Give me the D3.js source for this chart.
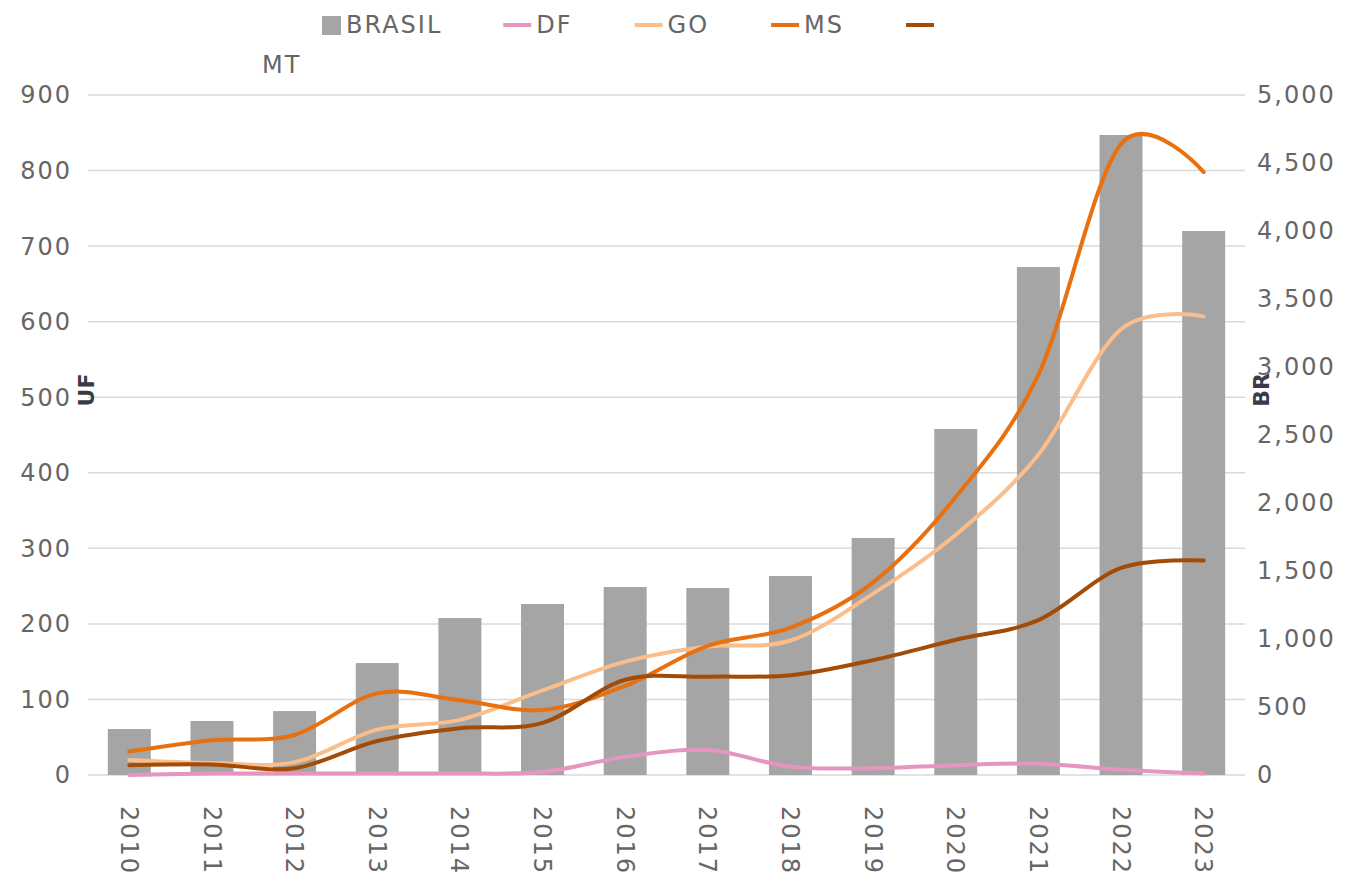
<!DOCTYPE html>
<html>
<head>
<meta charset="utf-8">
<script src="https://cdn.jsdelivr.net/npm/d3@7"></script>
<style>
    body { margin: 0; background: #fff; }
    svg { display: block; font-family: "DejaVu Sans", sans-serif; }
</style>
</head>
<body>
<svg id="chart" width="1352" height="882"></svg>
<script>
// data
var years = ["2010", "2011", "2012", "2013", "2014", "2015", "2016", "2017", "2018", "2019", "2020", "2021", "2022", "2023"];
var brasil = [338, 397, 470, 823, 1154, 1257, 1382, 1375, 1463, 1743, 2544, 3735, 4706, 4000];
var df = [0, 2, 2, 2, 2, 4, 24, 33, 11, 9, 13, 15, 7, 2];
var go = [20, 16, 17, 60, 73, 112, 150, 170, 178, 240, 318, 424, 590, 607];
var ms = [31, 46, 53, 108, 99, 86, 118, 171, 195, 255, 368, 530, 835, 798];
var mt = [13, 14, 9, 45, 62, 69, 126, 130, 132, 152, 179, 205, 274, 284];
var leftTicks = [0, 100, 200, 300, 400, 500, 600, 700, 800, 900];
var rightTicks = [0, 500, 1000, 1500, 2000, 2500, 3000, 3500, 4000, 4500, 5000];

var series = [
    { name: "DF", values: df, color: "#e595bf" },
    { name: "GO", values: go, color: "#fbbd8a" },
    { name: "MS", values: ms, color: "#e8700f" },
    { name: "MT", values: mt, color: "#a24c08" }
];

var svg = d3.select("#chart");

var plotLeft = 88, plotRight = 1245, plotTop = 95, plotBottom = 775;

var x = d3.scaleBand().domain(years).range([plotLeft, plotRight]).paddingInner(0.48).paddingOuter(0.24);
var yL = d3.scaleLinear().domain([0, 900]).range([plotBottom, plotTop]);
var yR = d3.scaleLinear().domain([0, 5000]).range([plotBottom, plotTop]);

var textColor = "#666";
var spacing = "2px";

// gridlines
svg.append("g")
    .selectAll("line")
    .data(leftTicks)
    .enter().append("line")
    .attr("x1", plotLeft).attr("x2", plotRight)
    .attr("y1", d => yL(d)).attr("y2", d => yL(d))
    .attr("stroke", "#d9d9d9")
    .attr("stroke-width", 1.5);

// left axis labels
svg.append("g")
    .attr("font-size", 24)
    .attr("letter-spacing", spacing)
    .attr("fill", textColor)
    .attr("text-anchor", "end")
    .selectAll("text")
    .data(leftTicks)
    .enter().append("text")
    .attr("x", 72)
    .attr("y", d => yL(d))
    .attr("dy", "0.35em")
    .text(d => d);

// right axis labels
svg.append("g")
    .attr("font-size", 24)
    .attr("letter-spacing", spacing)
    .attr("fill", textColor)
    .selectAll("text")
    .data(rightTicks)
    .enter().append("text")
    .attr("x", 1257)
    .attr("y", d => yR(d))
    .attr("dy", "0.35em")
    .text(d => d3.format(",")(d));

// bars
svg.append("g")
    .attr("fill", "#a5a5a5")
    .selectAll("rect")
    .data(brasil)
    .enter().append("rect")
    .attr("x", (d, i) => x(years[i]))
    .attr("width", x.bandwidth())
    .attr("y", d => yR(d))
    .attr("height", d => yR(0) - yR(d));

// smoothed lines, excel style
var line = d3.line()
    .x((d, i) => x(years[i]) + x.bandwidth() / 2)
    .y(d => yL(d))
    .curve(d3.curveCardinal.tension(0));

svg.append("g")
    .attr("fill", "none")
    .attr("stroke-width", 4)
    .attr("stroke-linecap", "round")
    .selectAll("path")
    .data(series)
    .enter().append("path")
    .attr("stroke", d => d.color)
    .attr("d", d => line(d.values));

// year labels, rotated
svg.append("g")
    .attr("font-size", 24)
    .attr("letter-spacing", spacing)
    .attr("fill", textColor)
    .selectAll("text")
    .data(years)
    .enter().append("text")
    .attr("transform", d => `translate(${x(d) + x.bandwidth() / 2},806) rotate(90)`)
    .attr("dy", "0.35em")
    .text(d => d);

// axis titles
svg.append("text")
    .attr("transform", "translate(86,390) rotate(-90)")
    .attr("text-anchor", "middle")
    .attr("dy", "0.35em")
    .attr("font-size", 22)
    .attr("font-weight", "bold")
    .attr("fill", "#3b3b48")
    .text("UF");

svg.append("text")
    .attr("transform", "translate(1261,390) rotate(-90)")
    .attr("text-anchor", "middle")
    .attr("dy", "0.35em")
    .attr("font-size", 22)
    .attr("font-weight", "bold")
    .attr("fill", "#3b3b48")
    .text("BR");

// legend
var legend = svg.append("g")
    .attr("font-size", 24)
    .attr("letter-spacing", spacing)
    .attr("fill", textColor);

var lx = 322;
var ly = 25;
var brasilItem = legend.append("g").attr("transform", `translate(${lx},${ly})`);
brasilItem.append("rect").attr("x", 0).attr("y", -9).attr("width", 19).attr("height", 19).attr("fill", "#a5a5a5");
var bt = brasilItem.append("text").attr("x", 24).attr("dy", "0.35em").text("BRASIL");
lx += 24 + bt.node().getComputedTextLength() + 61;

series.forEach(function (s, i)
{
    var g = legend.append("g").attr("transform", `translate(${lx},${ly})`);
    g.append("line").attr("x1", 0).attr("x2", 28).attr("stroke", s.color).attr("stroke-width", 4);
    if (i < series.length - 1)
    {
        var t = g.append("text").attr("x", 33).attr("dy", "0.35em").text(s.name);
        lx += 33 + t.node().getComputedTextLength() + 62;
    }
    else
    {
        // last label wraps to the second row in the original
        legend.append("text").attr("x", 262).attr("y", 65).attr("dy", "0.35em").text(s.name);
    }
});
</script>
</body>
</html>
